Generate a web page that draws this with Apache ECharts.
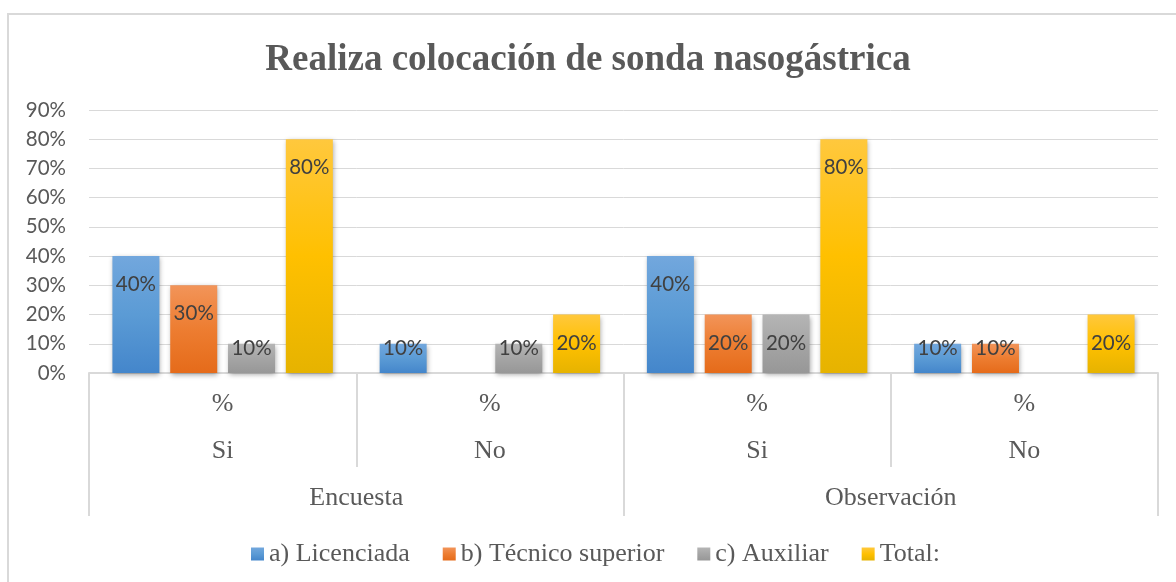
<!DOCTYPE html>
<html>
<head>
<meta charset="utf-8">
<title>Realiza colocación de sonda nasogástrica</title>
<script src="https://cdn.jsdelivr.net/npm/echarts@6/dist/echarts.min.js"></script>
<style>
  html, body { margin: 0; padding: 0; background: #fff; }
  #chart { width: 1176px; height: 582px; }
</style>
</head>
<body>
<div id="chart"></div>
<script>
// datos
var categories = ['%', '%', '%', '%'];
var answers = ['Si', 'No', 'Si', 'No'];
var methods = ['Encuesta', 'Observación'];
var seriesNames = ['a) Licenciada', 'b) Técnico superior', 'c) Auxiliar', 'Total:'];
var licenciada = [0.4, 0.1, 0.4, 0.1];
var tecnico = [0.3, null, 0.2, 0.1];
var auxiliar = [0.1, 0.1, 0.2, null];
var total = [0.8, 0.2, 0.8, 0.2];

var colors = [
    ['#72a7dd', '#5b9bd5', '#4486cb'],
    ['#f29459', '#ed7d31', '#e56b1a'],
    ['#b5b5b5', '#a5a5a5', '#979797'],
    ['#ffc83d', '#ffc000', '#e6b300']
];

var serif = '"Liberation Serif", "Times New Roman", serif';
var sans = 'Lato, "Open Sans", sans-serif';
var grey = '#595959';
var lineGrey = '#d9d9d9';

function pct(v) { return Math.round(v * 100) + '%'; }

function makeData(values) {
    return values.map(function (v) {
        if (v === null) return '-';
        return {
            value: v,
            label: { distance: v < 0.15 ? -6 : 18 }
        };
    });
}

function makeSeries(name, values, idx) {
    var c = colors[idx];
    return {
        name: name,
        type: 'bar',
        xAxisIndex: 0,
        barWidth: 47,
        barGap: '23%',
        data: makeData(values),
        itemStyle: {
            color: new echarts.graphic.LinearGradient(0, 0, 0, 1, [
                { offset: 0, color: c[0] },
                { offset: 0.5, color: c[1] },
                { offset: 1, color: c[2] }
            ]),
            shadowBlur: 5,
            shadowColor: 'rgba(0,0,0,0.35)',
            shadowOffsetX: 1,
            shadowOffsetY: 2
        },
        label: {
            show: true,
            position: 'insideTop',
            fontFamily: sans,
            fontSize: 20.5,
            color: '#404040',
            formatter: function (p) { return pct(p.value); }
        }
    };
}

var chart = echarts.init(document.getElementById('chart'));

var option = {
    backgroundColor: '#fff',
    animation: false,
    title: {
        text: 'Realiza colocación de sonda nasogástrica',
        left: 'center',
        top: 37,
        textStyle: { fontFamily: serif, fontWeight: 'bold', fontSize: 37, color: grey }
    },
    graphic: [{
        type: 'rect',
        shape: { x: 8, y: 14, width: 1200, height: 620 },
        style: { fill: 'none', stroke: lineGrey, lineWidth: 2 },
        silent: true
    }],
    legend: {
        top: 536,
        left: 246,
        itemWidth: 13,
        itemHeight: 13,
        itemGap: 33,
        icon: 'rect',
        itemStyle: { shadowBlur: 0, shadowOffsetX: 0, shadowOffsetY: 0 },
        textStyle: { fontFamily: serif, fontSize: 26, color: grey },
        data: seriesNames
    },
    grid: { left: 89, right: 18, top: 110, bottom: 209 },
    yAxis: {
        type: 'value',
        min: 0,
        max: 0.9,
        interval: 0.1,
        axisLine: { show: false },
        axisTick: { show: false },
        splitLine: { lineStyle: { color: lineGrey, width: 1 } },
        axisLabel: {
            margin: 23,
            fontFamily: sans,
            fontSize: 20.5,
            color: grey,
            formatter: pct
        }
    },
    xAxis: [
        {
            type: 'category',
            data: categories,
            position: 'bottom',
            axisLine: { show: true, lineStyle: { color: lineGrey, width: 2 } },
            axisTick: { show: true, length: 94, lineStyle: { color: lineGrey, width: 2 } },
            axisLabel: { margin: 18, fontFamily: serif, fontSize: 26, color: grey }
        },
        {
            type: 'category',
            data: answers,
            position: 'bottom',
            offset: 47,
            axisLine: { show: false },
            axisTick: { show: false },
            axisLabel: { margin: 18, fontFamily: serif, fontSize: 26, color: grey }
        },
        {
            type: 'category',
            data: methods,
            position: 'bottom',
            axisLine: { show: false },
            axisTick: { show: true, length: 143, lineStyle: { color: lineGrey, width: 2 } },
            axisLabel: { margin: 112, fontFamily: serif, fontSize: 26, color: grey }
        }
    ],
    series: [
        makeSeries(seriesNames[0], licenciada, 0),
        makeSeries(seriesNames[1], tecnico, 1),
        makeSeries(seriesNames[2], auxiliar, 2),
        makeSeries(seriesNames[3], total, 3)
    ]
};

chart.setOption(option);
</script>
</body>
</html>
